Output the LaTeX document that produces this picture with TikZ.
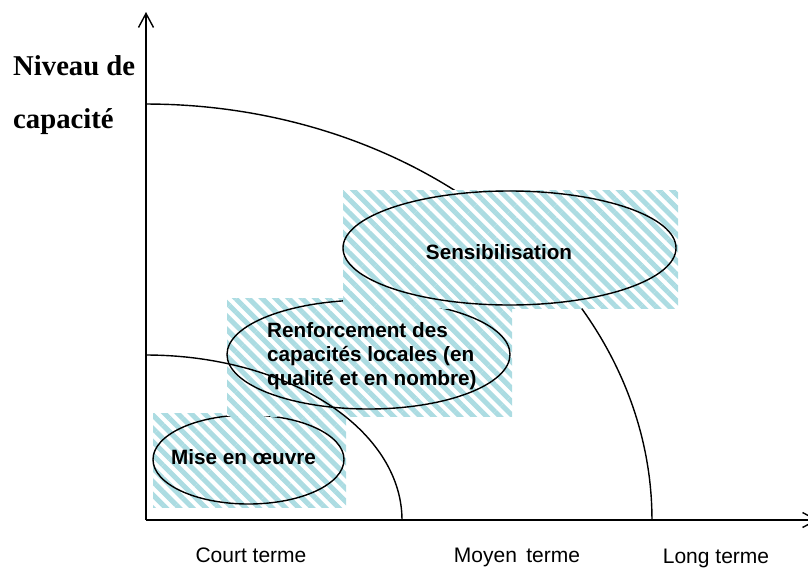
\documentclass[tikz,border=0pt]{standalone}
\usepackage{fontspec}
\setmainfont{Liberation Sans}
\newfontfamily\timesfont{Liberation Serif}
\usetikzlibrary{shapes.geometric,patterns.meta,arrows.meta}
\definecolor{hatchblue}{RGB}{172,220,226}
\begin{document}
\begin{tikzpicture}[x=1pt,y=-1pt,
  hatch/.style={fill=white, postaction={pattern={Lines[angle=-45,distance=9.4pt,line width=5pt]}, pattern color=hatchblue}},
  oval/.style={ellipse, draw, line width=1.4pt, inner sep=0pt, outer sep=0pt},
  lbl/.style={font=\fontsize{20.7}{24}\selectfont\bfseries, inner sep=0pt},
  ticklbl/.style={font=\fontsize{21}{24}\selectfont, inner sep=0pt},
  ylbl/.style={font=\timesfont\fontsize{28.7}{34}\selectfont\bfseries, inner sep=0pt},
  axisline/.style={line width=1.6pt, -{Straight Barb[length=14pt,width=15pt,line width=1.4pt]}},
  curve/.style={line width=1.4pt}]
\useasboundingbox (0,0) rectangle (808,568);

% axes
\coordinate (O) at (146,520);
\coordinate (ytop) at (146,12);
\coordinate (xend) at (818,520);
\draw[axisline] (O) -- (ytop);
\draw[axisline] (O) -- (xend);

% big curve (hidden later by Sensibilisation box)
\draw[curve] plot[domain=90:0, samples=60, smooth] ({146+506*cos(\x)},{520-416*sin(\x)});

% Mise en oeuvre
\path[hatch] (153,413) rectangle (346,507);
\node[oval, minimum width=191pt, minimum height=89pt] (mise) at (248.5,459.5) {};
\node[lbl, anchor=base] (misetxt) at (243.5,464) {Mise en œuvre};

% Renforcement
\path[hatch] (227,298) rectangle (512,416);
\draw[curve] plot[domain=90:0, samples=50, smooth] ({146+256*cos(\x)},{520-165*sin(\x)});
\node[oval, minimum width=283pt, minimum height=109pt] (renf) at (368.5,354.5) {};
\node[lbl, anchor=base west] (r1) at (267,337) {Renforcement des};
\node[lbl, anchor=base west] (r2) at (267,361) {capacités locales (en};
\node[lbl, anchor=base west] (r3) at (267,385) {qualité et en nombre)};

% Sensibilisation
\path[hatch] (343,190) rectangle (678,308);
\node[oval, minimum width=333pt, minimum height=114pt] (sens) at (509.5,248) {};
\node[lbl, anchor=base] (senstxt) at (499,259) {Sensibilisation};

% axis labels
\node[ylbl, anchor=base west] (y1) at (13,75) {Niveau de};
\node[ylbl, anchor=base west] (y2) at (13,128) {capacité};
\node[ticklbl, anchor=base] (t1) at (251,562) {Court terme};
\node[ticklbl, anchor=base] (t2) at (517,562) {Moyen\, terme};
\node[ticklbl, anchor=base] (t3) at (716,563) {Long terme};
\end{tikzpicture}
\end{document}
